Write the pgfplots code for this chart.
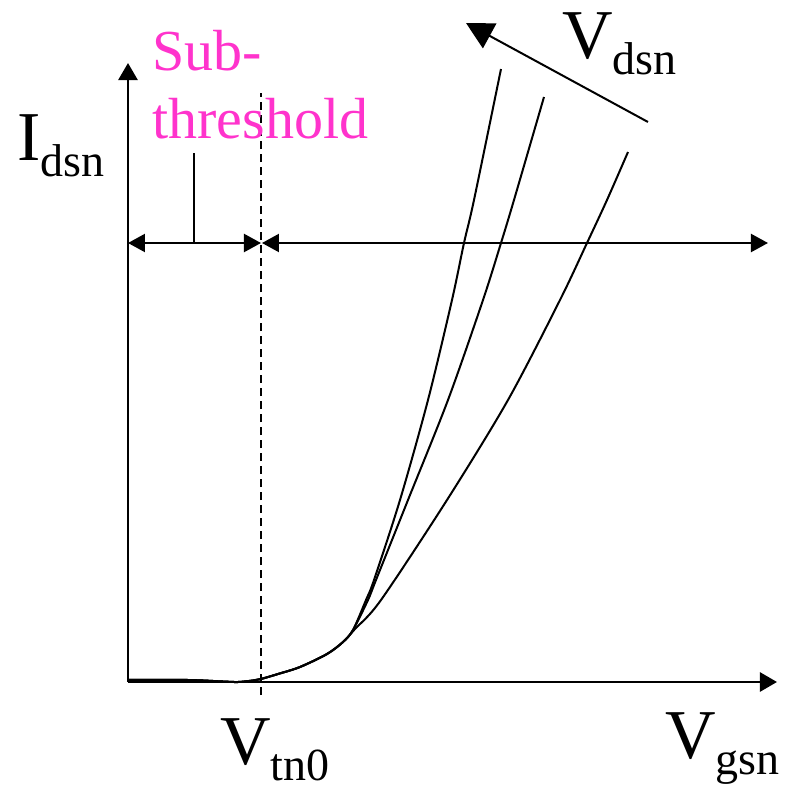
\documentclass[border=0pt]{standalone}
\usepackage{pgfplots}
\pgfplotsset{compat=1.18}
\usetikzlibrary{arrows.meta}
\usepackage{fontspec}
\setmainfont{Liberation Serif}
\definecolor{subth}{RGB}{255,51,204}
\newcommand\sub[1]{\raisebox{-8pt}{\fontsize{23}{25}\selectfont #1}}
\begin{document}
\begin{tikzpicture}
\begin{axis}[
  x=0.5pt, y=0.5pt,
  xmin=0, xmax=649, ymin=0, ymax=619,
  axis lines=left,
  axis line style={line width=1.3pt, -{Triangle[length=8.5pt,width=9.5pt]}},
  ticks=none, clip=false,
]
\addplot[smooth, tension=0.5, line width=1pt, black] coordinates {
 (0,2) (60,2) (95,0.5) (110,0) (125,1.5) (133,3) (150,8) (172,15) (199,28) (215,40) (225,52)
 (238,82) (246,102) (272,182) (300,282) (324,382) (336,439) (346,482) (373,613)};
\addplot[smooth, tension=0.5, line width=1pt, black] coordinates {
 (0,2) (60,2) (95,0.5) (110,0) (125,1.5) (133,3) (150,8) (172,15) (199,28) (215,40) (225,52)
 (240,82) (248,102) (280,182) (320,282) (355,382) (373,439) (386,482) (416,585)};
\addplot[smooth, tension=0.5, line width=1pt, black] coordinates {
 (0,2) (60,2) (95,0.5) (110,0) (125,1.5) (133,3) (150,8) (172,15) (199,28) (215,40) (227,53)
 (253,82) (319,182) (380,282) (432,382) (459,439) (479,482) (500,530)};
\draw[line width=1.2pt, dash pattern=on 4pt off 2.5pt] (axis cs:133,-13) -- (axis cs:133,589);
\draw[line width=1.1pt, {Triangle[length=8.5pt,width=9pt]}-{Triangle[length=8.5pt,width=9pt]}]
  (axis cs:0,439) -- (axis cs:133,439);
\draw[line width=1.1pt, {Triangle[length=8.5pt,width=9pt]}-{Triangle[length=8.5pt,width=9pt]}]
  (axis cs:134,439) -- (axis cs:640,439);
\draw[line width=1pt] (axis cs:66,439) -- (axis cs:66,529);
\draw[line width=1pt, -{Triangle[length=13.5pt,width=14pt]}] (axis cs:520,560) -- (axis cs:338,659);
\node[anchor=base west, inner sep=0pt, font=\fontsize{35}{40}\selectfont] at (axis cs:-111,522) {I\sub{dsn}};
\node[anchor=base west, inner sep=0pt, font=\fontsize{35}{40}\selectfont] at (axis cs:92,-82) {V\sub{tn0}};
\node[anchor=base west, inner sep=0pt, font=\fontsize{35}{40}\selectfont] at (axis cs:537,-76) {V\sub{gsn}};
\node[anchor=base west, inner sep=0pt, font=\fontsize{35}{40}\selectfont] at (axis cs:434,624) {V\sub{dsn}};
\node[anchor=base west, inner sep=0pt, text=subth, font=\fontsize{29}{32}\selectfont] at (axis cs:24,612) {Sub-};
\node[anchor=base west, inner sep=0pt, text=subth, font=\fontsize{29}{32}\selectfont] at (axis cs:24,544) {threshold};
\coordinate (bl) at (axis cs:-128,-107);
\coordinate (tr) at (axis cs:656,682);
\end{axis}
\pgfresetboundingbox
\path[use as bounding box] (bl) rectangle (tr);
\end{tikzpicture}
\end{document}
